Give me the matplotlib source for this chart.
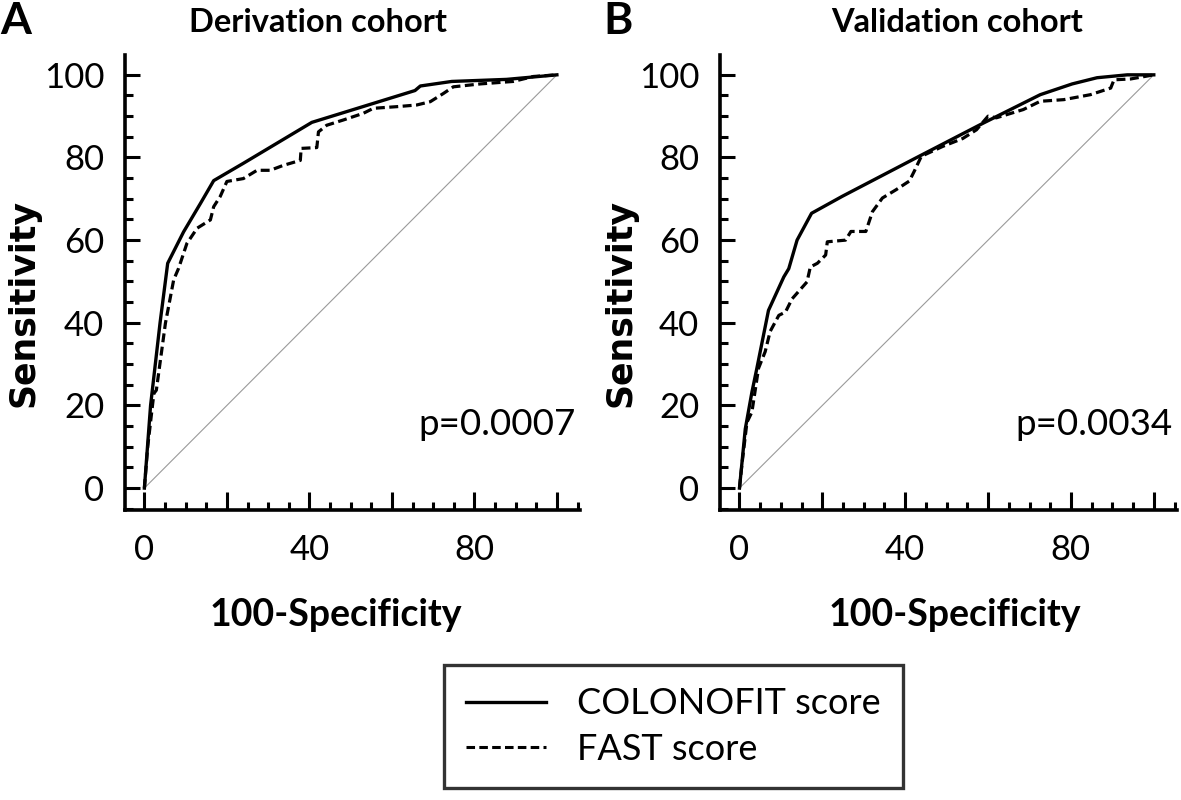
import matplotlib
matplotlib.use("Agg")
import matplotlib.pyplot as plt
from matplotlib.lines import Line2D
from matplotlib.ticker import MultipleLocator

plt.rcParams['font.family'] = ['Lato', 'DejaVu Sans']

# ---- data (100-Specificity, Sensitivity) ----
derivation_colonofit_x = [0, 1.5, 3.8, 5.65, 9.5, 13.6, 16.8, 24.0, 40.6, 65.6, 66.9, 74.5, 87.8, 100]
derivation_colonofit_y = [0, 20, 40, 54.4, 62.0, 68.9, 74.4, 78.6, 88.5, 96.2, 97.3, 98.4, 98.9, 100]

derivation_fast_x = [0, 0.8, 2.3, 2.9, 5.1, 7.1, 8.3, 10.3, 12.8, 16.0, 16.8, 18.4, 20.0, 24.0, 27.3, 30.5,
                     33.7, 37.8, 38.0, 41.8, 42.2, 44.2, 48.3, 53.1, 55.5, 61.2, 66.0, 69.3, 72.5, 74.9,
                     81.4, 89.4, 94.3, 100]
derivation_fast_y = [0, 10, 22.9, 23.7, 39.9, 50.4, 53.2, 59.2, 62.9, 64.9, 68.1, 70.6, 74.2, 74.9, 76.9, 76.9,
                     78.1, 79.3, 82.2, 82.4, 86.2, 87.8, 89.1, 90.7, 91.9, 92.3, 92.7, 93.5, 95.5, 97.1,
                     97.8, 98.4, 99.6, 100]

validation_colonofit_x = [0, 1.4, 3.0, 4.2, 7.0, 10.7, 11.9, 13.9, 17.4, 24.8, 42.6, 58.8, 72.6, 80.3, 86.3, 93.6, 100]
validation_colonofit_y = [0, 14.3, 23.2, 29.0, 43.0, 51.1, 53.1, 60.0, 66.5, 70.6, 79.9, 88.3, 95.2, 97.8, 99.3, 100, 100]

validation_fast_x = [0, 0.6, 1.8, 3.0, 4.6, 6.2, 7.4, 9.5, 11.1, 12.7, 16.3, 17.1, 18.8, 20.8, 21.2, 25.6, 26.9,
                     30.5, 32.1, 34.5, 37.8, 41.0, 42.2, 43.9, 49.1, 53.9, 57.2, 60.0, 62.0, 68.5, 72.6,
                     78.3, 84.7, 89.6, 90.4, 94.4, 100]
validation_fast_y = [0, 5.8, 15.9, 18.4, 29.0, 33.0, 37.9, 41.8, 42.6, 45.8, 49.9, 53.5, 54.4, 56.4, 59.6, 60.0, 62.1,
                     62.1, 66.9, 70.2, 72.2, 74.3, 76.7, 80.3, 82.7, 84.6, 86.7, 90.0, 89.6, 91.6, 93.6,
                     94.0, 95.2, 96.8, 98.8, 99.0, 100]

panels = [
    dict(letter="A", title="Derivation cohort", p="p=0.0007",
         cx=derivation_colonofit_x, cy=derivation_colonofit_y,
         fx=derivation_fast_x, fy=derivation_fast_y),
    dict(letter="B", title="Validation cohort", p="p=0.0034",
         cx=validation_colonofit_x, cy=validation_colonofit_y,
         fx=validation_fast_x, fy=validation_fast_y),
]
x_ticks = [0, 20, 40, 60, 80, 100]
x_ticklabels = ["0", "", "40", "", "80", ""]
y_ticks = [0, 20, 40, 60, 80, 100]
y_ticklabels = ["0", "20", "40", "60", "80", "100"]
legend_labels = ["COLONOFIT score", "FAST score"]

W, H = 1181, 800
fig = plt.figure(figsize=(W / 100, H / 100), dpi=100)

# axes pixel boxes: (left, right, top, bottom)
boxes = [(125, 580, 55, 510), (720, 1177, 55, 510)]
title_x = [318, 957]
letter_x = [0, 603]
ylabel_x = [24, 620]
xlabel_x = [336, 955]

DASH = (0, (2.8, 1.4))

for i, (pan, (l, r, t, b)) in enumerate(zip(panels, boxes)):
    ax = fig.add_axes([l / W, 1 - b / H, (r - l) / W, (b - t) / H])
    ax.set_xlim(-4.7, 105.6)
    ax.set_ylim(-5.3, 104.8)
    for s in ("top", "right"):
        ax.spines[s].set_visible(False)
    for s in ("left", "bottom"):
        ax.spines[s].set_linewidth(2.6)
    ax.plot([0, 100], [0, 100], color="#9a9a9a", lw=0.8)
    ax.plot(pan["fx"], pan["fy"], color="black", lw=2.3, ls=DASH)
    ax.plot(pan["cx"], pan["cy"], color="black", lw=2.4, solid_joinstyle="round")

    ax.set_xticks(x_ticks)
    ax.set_xticklabels(x_ticklabels)
    ax.xaxis.set_minor_locator(MultipleLocator(5))
    ax.set_yticks(y_ticks)
    ax.set_yticklabels(y_ticklabels)
    ax.yaxis.set_minor_locator(MultipleLocator(5))
    ax.tick_params(which="both", direction="in", width=2.2)
    ax.tick_params(axis="y", which="major", length=11, labelsize=25, pad=15)
    ax.tick_params(axis="x", which="major", length=13, labelsize=25, pad=17)
    ax.tick_params(which="minor", length=6)
    ax.text(104.5, 15.3, pan["p"], fontsize=26.5, ha="right", va="center")

    fig.text(title_x[i] / W, 1 - 22 / H, pan["title"], fontsize=23.5, fontweight="bold", ha="center", va="center")
    fig.text(letter_x[i] / W, 1 - 21 / H, pan["letter"], fontsize=32, fontweight="bold", ha="left", va="center")
    fig.text(ylabel_x[i] / W, 1 - 303 / H, "Sensitivity", fontsize=25, fontweight="bold",
             family=["DejaVu Sans"], rotation=90, ha="center", va="center")
    fig.text(xlabel_x[i] / W, 1 - 615 / H, "100-Specificity", fontsize=27, fontweight="bold",
             ha="center", va="center")

handles = [Line2D([], [], color="black", lw=2.4),
           Line2D([], [], color="black", lw=2.2, ls=DASH)]
leg = fig.legend(handles, legend_labels, loc="upper left",
                 bbox_to_anchor=(444 / W, 1 - 665 / H), fontsize=26, frameon=True,
                 fancybox=False, handlelength=2.2, handletextpad=0.85, borderpad=0.62,
                 labelspacing=0.35, borderaxespad=0)
leg.get_frame().set_edgecolor("black")
leg.get_frame().set_linewidth(2.4)

fig.savefig("out.png", dpi=100)
